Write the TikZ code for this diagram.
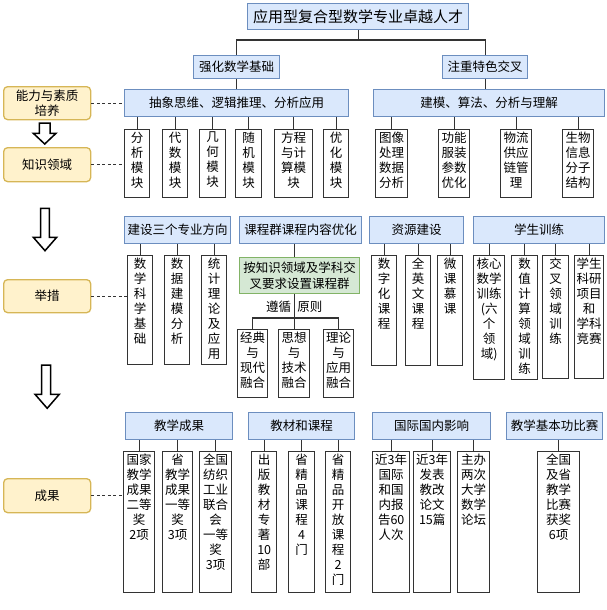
\documentclass[tikz,border=0pt]{standalone}
\usepackage{fontspec}
\setmainfont{Noto Sans CJK SC}
\definecolor{bfill}{HTML}{DAE8FC}
\definecolor{bdraw}{HTML}{6C8EBF}
\definecolor{yfill}{HTML}{FFF2CC}
\definecolor{ydraw}{HTML}{D6B656}
\definecolor{gfill}{HTML}{D5E8D4}
\definecolor{gdraw}{HTML}{82B366}
\definecolor{dk}{HTML}{333333}
\tikzset{
  tb/.style={draw=dk, line width=1.4pt, fill=white, inner sep=0pt, font=\fontsize{12.5}{15}\selectfont},
  bb/.style={draw=bdraw, line width=1.3pt, fill=bfill, inner sep=0pt, font=\fontsize{12.5}{15}\selectfont},
  yb/.style={draw=ydraw, line width=1.3pt, fill=yfill, rounded corners=4pt, inner sep=0pt, align=center, font=\fontsize{12.5}{15}\selectfont},
  gb/.style={draw=gdraw, line width=1.3pt, fill=gfill, inner sep=0pt, align=center, font=\fontsize{12.5}{16}\selectfont},
  ln/.style={draw=dk, line width=1.3pt},
  dl/.style={draw=dk, line width=1.3pt, dash pattern=on 3pt off 2.5pt},
  harrow/.style={draw=black, line width=1.5pt, fill=white, line join=miter},
  lab/.style={inner sep=0pt, font=\fontsize{12.5}{15}\selectfont}
}
\newcommand{\VB}[6]{\node[tb,anchor=north west] (#1) at (#2,#3) {\parbox[c][#5pt][t]{#4pt}{\centering\vspace{2.5pt}#6\par}};}
\newcommand{\BB}[6]{\node[bb,anchor=north west,minimum width=#4pt,minimum height=#5pt] (#1) at (#2,#3) {#6};}
\newcommand{\YB}[6]{\node[yb,anchor=north west,minimum width=#4pt,minimum height=#5pt] (#1) at (#2,#3) {#6};}
\begin{document}
\begin{tikzpicture}[x=1pt,y=-1pt]
\useasboundingbox (0,0) rectangle (606,610);
% top levels
\node[bb,anchor=north west,minimum width=221pt,minimum height=26pt,font=\fontsize{15}{18}\selectfont] (title) at (247,3) {应用型复合型数学专业卓越人才};
\BB{qh}{193}{55}{86}{23}{强化数学基础}
\BB{zz}{442}{55}{85}{23}{注重特色交叉}
\BB{abs}{124}{89}{224}{27}{抽象思维、逻辑推理、分析应用}
\BB{jm}{373}{89}{231}{27}{建模、算法、分析与理解}
% left column
\YB{nl}{3}{86}{87}{33}{能力与素质\\培养}
\YB{zs}{3}{147}{87}{34}{知识领域}
\YB{jc}{3}{279}{87}{33}{举措}
\YB{cg}{3}{478}{87}{34}{成果}
% modules
\VB{m1}{124}{129}{25}{68}{分\\析\\模\\块}
\VB{m2}{162}{129}{25}{68}{代\\数\\模\\块}
\VB{m3}{199}{129}{26}{68}{几\\何\\模\\块}
\VB{m4}{235}{129}{26}{68}{随\\机\\模\\块}
\VB{m5}{274}{129}{38}{68}{方程\\与计\\算模\\块}
\VB{m6}{323}{129}{25}{68}{优\\化\\模\\块}
\VB{n1}{375}{129}{32}{68}{图像\\处理\\数据\\分析}
\VB{n2}{438}{129}{31}{68}{功能\\服装\\参数\\优化}
\VB{n3}{500}{129}{31}{68}{物流\\供应\\链管\\理}
\VB{n4}{562}{129}{31}{68}{生物\\信息\\分子\\结构}
% row 2 headers
\BB{js}{124}{216}{106}{27}{建设三个专业方向}
\BB{kc}{239}{216}{122}{27}{课程群课程内容优化}
\BB{zy}{369}{216}{94}{27}{资源建设}
\BB{xs}{473}{216}{131}{27}{学生训练}
% row 2 children
\VB{s1}{127}{255}{25}{109}{数\\学\\科\\学\\基\\础}
\VB{s2}{164}{255}{25}{109}{数\\据\\建\\模\\分\\析}
\VB{s3}{201}{255}{25}{109}{统\\计\\理\\论\\及\\应\\用}
\node[gb,anchor=north west,minimum width=120pt,minimum height=36pt] (green) at (239,257) {按知识领域及学科交\\叉要求设置课程群};
\VB{r1}{371}{255}{25}{110}{数\\字\\化\\课\\程}
\VB{r2}{405}{255}{25}{110}{全\\英\\文\\课\\程}
\VB{r3}{437}{255}{25}{110}{微\\课\\慕\\课}
\VB{t1}{473}{255}{31}{124}{核心\\数学\\训练\\(六\\个\\领\\域)}
\VB{t2}{511}{255}{26}{124}{数\\值\\计\\算\\领\\域\\训\\练}
\VB{t3}{542}{255}{26}{123}{交\\叉\\领\\域\\训\\练}
\VB{t4}{574}{255}{29}{123}{学生\\科研\\项目\\和\\学科\\竞赛}
\VB{f1}{237}{329}{30}{68}{经典\\与\\现代\\融合}
\VB{f2}{278}{329}{31}{68}{思想\\与\\技术\\融合}
\VB{f3}{323}{329}{30}{68}{理论\\与\\应用\\融合}
% row 3 headers
\BB{jx}{125}{412}{107}{27}{教学成果}
\BB{jk}{248}{412}{106}{27}{教材和课程}
\BB{gj}{372}{412}{118}{27}{国际国内影响}
\BB{bs}{506}{412}{96}{27}{教学基本功比赛}
% row 3 children
\VB{a1}{123}{451}{31}{141}{国家\\教学\\成果\\二等\\奖\\2项}
\VB{a2}{162}{451}{30}{141}{省\\教学\\成果\\一等\\奖\\3项}
\VB{a3}{199}{451}{32}{141}{全国\\纺织\\工业\\联合\\会\\一等\\奖\\3项}
\VB{b1}{251}{451}{25}{141}{出\\版\\教\\材\\专\\著\\10\\部}
\VB{b2}{288}{451}{26}{141}{省\\精\\品\\课\\程\\4\\门}
\VB{b3}{325}{451}{25}{141}{省\\精\\品\\开\\放\\课\\程\\2\\门}
\VB{c1}{372}{451}{37}{141}{近3年\\国际\\和国\\内报\\告60\\人次}
\VB{c2}{413}{451}{37}{141}{近3年\\发表\\教改\\论文\\15篇}
\VB{c3}{457}{451}{32}{141}{主办\\两次\\大学\\数学\\论坛}
\VB{d1}{537}{451}{42}{141}{全国\\及省\\教学\\比赛\\获奖\\6项}
% connectors top
\coordinate (tj) at (title.south |- 0,40);
\draw[ln] (title.south) -- (tj);
\draw[ln] (qh.north) |- (tj) -| (zz.north);
\draw[ln] (qh.south) -- (abs.north -| qh.south);
\draw[ln] (zz.south) -- (jm.north -| zz.south);
\foreach \m in {m1,m2,m3,m4,m5,m6} \draw[ln] (abs.south -| \m.north) -- (\m.north);
\foreach \m in {n1,n2,n3,n4} \draw[ln] (jm.south -| \m.north) -- (\m.north);
\foreach \m in {s1,s2,s3} \draw[ln] (js.south -| \m.north) -- (\m.north);
\foreach \m in {r1,r2,r3} \draw[ln] (zy.south -| \m.north) -- (\m.north);
\foreach \m in {t1,t2,t3,t4} \draw[ln] (xs.south -| \m.north) -- (\m.north);
\draw[ln] (kc.south -| f2.north) -- (green.north -| f2.north);
\coordinate (bj) at (f2.north |- 0,318);
\draw[ln] (green.south -| f2.north) -- (f2.north);
\draw[ln] (f1.north) |- (bj) -| (f3.north);
\node[lab,anchor=east] (zx) at ([xshift=-3pt]f2.north |- 0,307) {遵循};
\node[lab,anchor=west] (yz) at ([xshift=3pt]f2.north |- 0,307) {原则};
\foreach \m in {a1,a2,a3} \draw[ln] (jx.south -| \m.north) -- (\m.north);
\foreach \m in {b1,b2,b3} \draw[ln] (jk.south -| \m.north) -- (\m.north);
\foreach \m in {c1,c2,c3} \draw[ln] (gj.south -| \m.north) -- (\m.north);
\draw[ln] (bs.south -| d1.north) -- (d1.north);
% dashed links
\draw[dl] (nl.east) -- (nl.east -| abs.west);
\draw[dl] (zs.east) -- (zs.east -| m1.west);
\draw[dl] (jc.east) -- (jc.east -| s1.west);
\draw[dl] (cg.east) -- (cg.east -| a1.west);
% hollow arrows
\draw[harrow] (39.3,123) -- (50,123) -- (50,133.3) -- (56,133.3) -- (44.7,144) -- (33.3,133.3) -- (39.3,133.3) -- cycle;
\draw[harrow] (40.7,208.3) -- (49.3,208.3) -- (49.3,237.3) -- (56.7,237.3) -- (45,250.7) -- (33.3,237.3) -- (40.7,237.3) -- cycle;
\draw[harrow] (41.7,365) -- (50.7,365) -- (50.7,394.3) -- (59.3,394.3) -- (47.2,408.3) -- (35,394.3) -- (41.7,394.3) -- cycle;
\end{tikzpicture}
\end{document}
